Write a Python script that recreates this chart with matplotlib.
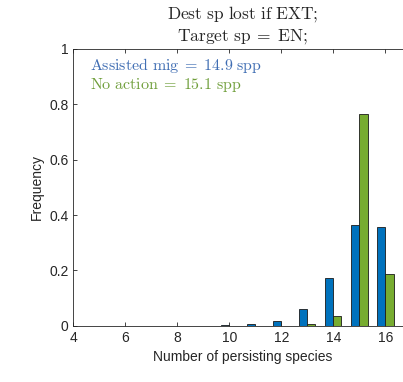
import numpy as np
import matplotlib
matplotlib.use('Agg')
import matplotlib.pyplot as plt

plt.rcParams['font.family'] = ['Liberation Sans', 'DejaVu Sans']
plt.rcParams['mathtext.fontset'] = 'cm'

# persisting species counts and their frequencies
n_species = np.arange(5, 17)
assisted = [0.001, 0.001, 0.001, 0.001, 0.001, 0.002, 0.006, 0.018, 0.061, 0.174, 0.365, 0.358]
no_action = [0.001, 0.001, 0.001, 0.001, 0.001, 0.001, 0.001, 0.001, 0.006, 0.037, 0.765, 0.187]

assisted_mean = 14.9
no_action_mean = 15.1

blue = '#0072BD'
green = '#77AC30'

fig = plt.figure(figsize=(4.03, 3.82), dpi=100)
ax = fig.add_axes([0.182, 0.147, 0.839, 0.725])

w = 0.31
ax.bar(n_species - w / 2, assisted, width=w, color=blue, edgecolor='#1a1a1a', linewidth=0.6)
ax.bar(n_species + w / 2, no_action, width=w, color=green, edgecolor='#1a1a1a', linewidth=0.6)

ax.set_xlim(4, 17)
ax.set_ylim(0, 1)
ax.set_xticks([4, 6, 8, 10, 12, 14, 16])
ax.set_yticks([0, 0.2, 0.4, 0.6, 0.8, 1])
ax.set_yticklabels(['0', '0.2', '0.4', '0.6', '0.8', '1'])
ax.tick_params(direction='in', top=True, right=True, labelsize=10, length=3, width=0.6, colors='#262626')
for s in ax.spines.values():
    s.set_linewidth(0.6)
    s.set_color('#262626')

ax.set_xlabel('Number of persisting species', fontsize=10, color='#262626')
ax.set_ylabel('Frequency', fontsize=10, color='#262626')

ax.set_title(r'$\mathrm{Dest\ sp\ lost\ if\ EXT;}$' + '\n' + r'$\mathrm{Target\ sp\;=\;EN;}$',
             fontsize=12.5, color='#262626', pad=6, linespacing=1.2)

ax.text(4.63, 0.94, r'$\mathrm{Assisted\ mig\;=\;%.1f\ spp}$' % assisted_mean,
        color='#3f6db3', fontsize=11.5, va='center')
ax.text(4.63, 0.868, r'$\mathrm{No\ action\;=\;%.1f\ spp}$' % no_action_mean,
        color='#6f9e3a', fontsize=11.5, va='center')

fig.savefig('out.png', dpi=100)
